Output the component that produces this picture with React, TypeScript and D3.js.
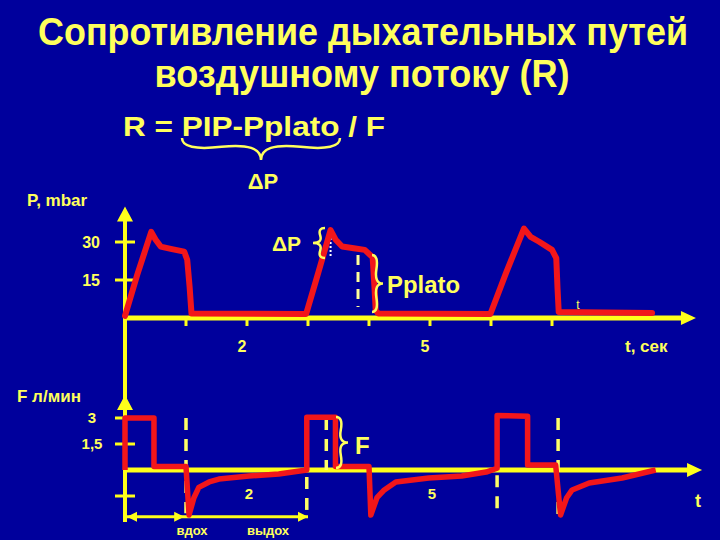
import React, { useEffect, useRef } from 'react';
import * as d3 from 'd3';

// pressure curve, [t in s, P in mbar]
const pressure: [number, number][] = [
    [0, 0.8], [0.2, 17], [0.43, 34], [0.5, 31], [0.585, 28.2], [0.75, 27.3], [0.97, 26.2],
    [1.02, 23], [1.06, 12], [1.09, 1.8], [2.97, 1.6],
    [3.17, 18], [3.37, 34.7], [3.45, 31], [3.56, 28.2], [3.75, 27.5], [3.93, 26.9],
    [4.06, 24], [4.09, 12], [4.11, 3], [4.15, 1.8], [5.99, 1.6],
    [6.25, 18], [6.54, 35.3], [6.65, 32], [6.79, 30.1], [7.0, 26.9],
    [7.07, 23.6], [7.09, 12], [7.11, 2.4], [8.64, 2.0],
];

// flow curve, [t in s, F in l/min]
const flow: [number, number][] = [
    [0, 0], [0, 3], [0.475, 3], [0.475, 0.2], [1.0, 0.2],
    [1.05, -2.6], [1.13, -1.6], [1.21, -1.0], [1.38, -0.69], [1.54, -0.52], [2.03, -0.35], [2.52, -0.23], [2.98, 0],
    [2.98, 3.05], [3.45, 3.05], [3.45, 0.2], [4.0, 0.2],
    [4.03, -2.6], [4.13, -1.6], [4.25, -1.15], [4.44, -0.69], [4.98, -0.46], [5.52, -0.35], [5.92, -0.12], [6.1, 0.1],
    [6.1, 3.15], [6.6, 3.1], [6.6, 0.29], [7.06, 0.29],
    [7.14, -2.6], [7.24, -1.6], [7.33, -1.15], [7.61, -0.75], [8.15, -0.46], [8.7, 0],
];

const pTicks = [15, 30];
const pTickLabels = ['15', '30'];
const fTicks = [3, 1.5, -1.5];
const fTickLabels = ['3', '1,5', ''];
const tTicks = [1, 2, 3, 4, 5, 6, 7];
const tLabels = [2, 5];

// dashed markers: [t, from, to]
const pDashes: [number, number, number][] = [[3.82, 24.9, 4.3]];
const pDotted: [number, number, number][] = [[3.37, 34.7, 23.8]];
const fDashes: [number, number, number][] = [
    [1.0, 3, -2.5], [2.98, -0.4, -2.5], [3.3, 3, 0], [6.1, -0.3, -2.5], [7.1, 3, -2.6],
];

const BG = '#00009c';
const AXIS = '#ffff1a';
const TXT = '#ffff5c';
const RED = '#f2161a';
const FONT = '"Liberation Sans", Arial, sans-serif';

// curly brace from (x1,y1) to (x2,y2), bulging by w
const brace = (x1: number, y1: number, x2: number, y2: number, w: number, q = 0.6) => {
    let dx = x1 - x2, dy = y1 - y2;
    const len = Math.sqrt(dx * dx + dy * dy);
    dx /= len; dy /= len;
    const qx1 = x1 + q * w * dy, qy1 = y1 - q * w * dx;
    const qx2 = x1 - 0.25 * len * dx + (1 - q) * w * dy, qy2 = y1 - 0.25 * len * dy - (1 - q) * w * dx;
    const tx = x1 - 0.5 * len * dx + w * dy, ty = y1 - 0.5 * len * dy - w * dx;
    const qx3 = x2 + q * w * dy, qy3 = y2 - q * w * dx;
    const qx4 = x1 - 0.75 * len * dx + (1 - q) * w * dy, qy4 = y1 - 0.75 * len * dy - (1 - q) * w * dx;
    return `M${x1},${y1}Q${qx1},${qy1} ${qx2},${qy2}T${tx},${ty}M${x2},${y2}Q${qx3},${qy3} ${qx4},${qy4}T${tx},${ty}`;
};

const App = () => {
    const svgRef = useRef<SVGSVGElement>(null);

    useEffect(() => {
        const svg = d3.select(svgRef.current);
        svg.selectAll('*').remove();

        const width = 720;
        const height = 540;

        const x = d3.scaleLinear().domain([0, 1]).range([125, 186]);
        const yP = d3.scaleLinear().domain([0, 30]).range([318, 242]);
        const yF = d3.scaleLinear().domain([0, 3]).range([470, 418]);

        svg.append('rect').attr('width', width).attr('height', height).attr('fill', BG);

        const text = (s: string, tx: number, ty: number, size: number, anchor = 'start', len?: number) => {
            const t = svg.append('text')
                .attr('x', tx).attr('y', ty)
                .attr('fill', TXT)
                .attr('font-family', FONT)
                .attr('font-weight', 'bold')
                .attr('font-size', size)
                .attr('text-anchor', anchor)
                .text(s);
            if (len) t.attr('textLength', len).attr('lengthAdjust', 'spacingAndGlyphs');
            return t;
        };

        // titles (a bit taller than wide, like a narrow face)
        text('Сопротивление дыхательных путей', 0, 0, 36, 'middle', 650)
            .attr('transform', 'translate(363,45) scale(1,1.06)');
        text('воздушному потоку (R)', 0, 0, 36, 'middle', 415)
            .attr('transform', 'translate(362,87) scale(1,1.06)');
        text('R = PIP-Pplato / F', 123, 136, 28, 'start', 262);

        const g = svg.append('g');
        const stroke = (sel: any, c: string, w: number) =>
            sel.attr('fill', 'none').attr('stroke', c).attr('stroke-width', w);

        stroke(g.append('path').attr('d', brace(182, 138, 340, 138, 22)), TXT, 2.5);
        text('ΔP', 263, 189, 22, 'middle');

        // axes
        const ax = g.append('g');
        stroke(ax.append('line')
            .attr('x1', x(0)).attr('x2', x(0))
            .attr('y1', yF(-3)).attr('y2', yP(40)), AXIS, 4);
        stroke(ax.append('line')
            .attr('x1', x(0)).attr('x2', x(9.15))
            .attr('y1', yP(0)).attr('y2', yP(0)), AXIS, 5);
        stroke(ax.append('line')
            .attr('x1', x(0)).attr('x2', x(9.25))
            .attr('y1', yF(0)).attr('y2', yF(0)), AXIS, 5);

        const arrow = (tx: number, ty: number, dir: 'up' | 'right', s = 8, l = 15) => {
            const pts = dir === 'up'
                ? [[tx, ty], [tx - s, ty + l], [tx + s, ty + l]]
                : [[tx, ty], [tx - l, ty - s], [tx - l, ty + s]];
            ax.append('polygon').attr('points', pts.map(p => p.join(',')).join(' ')).attr('fill', AXIS);
        };
        arrow(x(0), yP(44), 'up');
        arrow(x(0), yF(4.33), 'up');
        arrow(x(9.36), yP(0), 'right', 7);
        arrow(x(9.46), yF(0), 'right', 7);

        ax.selectAll('.pt').data(pTicks).join('line')
            .attr('x1', x(0) - 10).attr('x2', x(0) + 10)
            .attr('y1', d => yP(d)).attr('y2', d => yP(d))
            .attr('stroke', AXIS).attr('stroke-width', 3);
        ax.selectAll('.ft').data(fTicks).join('line')
            .attr('x1', x(0) - 10).attr('x2', x(0) + 10)
            .attr('y1', d => yF(d)).attr('y2', d => yF(d))
            .attr('stroke', AXIS).attr('stroke-width', 3);
        ax.selectAll('.tt').data(tTicks).join('line')
            .attr('x1', d => x(d)).attr('x2', d => x(d))
            .attr('y1', yP(0)).attr('y2', yP(0) + 8)
            .attr('stroke', AXIS).attr('stroke-width', 3);

        // вдох / выдох arrows
        const yB = yF(-2.7);
        stroke(ax.append('line').attr('x1', x(0)).attr('x2', x(3.0)).attr('y1', yB).attr('y2', yB), AXIS, 3);
        const small = (tx: number, left: boolean) => {
            const s = left ? 1 : -1;
            ax.append('polygon')
                .attr('points', `${tx},${yB} ${tx + s * 10},${yB - 5} ${tx + s * 10},${yB + 5}`)
                .attr('fill', AXIS);
        };
        small(x(0) + 2, true);
        small(x(0.97), false);
        small(x(3.0), false);

        // dashed markers
        const dl = g.append('g');
        dl.selectAll('.pd').data(pDashes).join('line')
            .attr('x1', d => x(d[0])).attr('x2', d => x(d[0]))
            .attr('y1', d => yP(d[1])).attr('y2', d => yP(d[2]))
            .attr('stroke', '#ffff99').attr('stroke-width', 3).attr('stroke-dasharray', '10,7');
        dl.selectAll('.po').data(pDotted).join('line')
            .attr('x1', d => x(d[0])).attr('x2', d => x(d[0]))
            .attr('y1', d => yP(d[1])).attr('y2', d => yP(d[2]))
            .attr('stroke', '#ffffff').attr('stroke-width', 2).attr('stroke-dasharray', '2,2');
        dl.selectAll('.fd').data(fDashes).join('line')
            .attr('x1', d => x(d[0])).attr('x2', d => x(d[0]))
            .attr('y1', d => yF(d[1])).attr('y2', d => yF(d[2]))
            .attr('stroke', '#ffff66').attr('stroke-width', 3.5).attr('stroke-dasharray', '12,9');

        // curves
        const lineP = d3.line<[number, number]>().x(d => x(d[0])).y(d => yP(d[1]));
        const lineF = d3.line<[number, number]>().x(d => x(d[0])).y(d => yF(d[1]));
        stroke(g.append('path').attr('d', lineP(pressure)), RED, 6)
            .attr('stroke-linejoin', 'round').attr('stroke-linecap', 'round');
        stroke(g.append('path').attr('d', lineF(flow)), RED, 5.5)
            .attr('stroke-linejoin', 'round');

        // braces
        stroke(g.append('path').attr('d', brace(325, 228, 325, 258, 12)), TXT, 2.5);
        stroke(g.append('path').attr('d', brace(372, 312, 372, 255, 11)), TXT, 2.5);
        stroke(g.append('path').attr('d', brace(336, 468, 336, 417, 12)), TXT, 2.5);
        text('ΔP', 272, 251, 21);
        text('Pplato', 387, 293, 24, 'start', 73);
        text('F', 355, 454, 24);

        // axis labels
        text('P, mbar', 27, 206, 17);
        text('F л/мин', 17, 402, 17);
        text('t, сек', 625, 352, 17);
        text('t', 698, 507, 18, 'middle');
        text('t', 578, 309, 12, 'middle').attr('font-weight', 'normal');

        pTicks.forEach((d, i) => text(pTickLabels[i], 100, yP(d) + 6, 16, 'end'));
        fTicks.forEach((d, i) => text(fTickLabels[i], 92, yF(d) + 5, 15, 'middle'));
        tLabels.forEach(d => text(String(d), x(d) - 5, 352, 16, 'middle'));
        tLabels.forEach(d => text(String(d), x(d) + 2, 499, 15, 'middle'));

        text('вдох', 192, 535, 13, 'middle');
        text('выдох', 268, 535, 13, 'middle');
    }, []);

    return (
        <svg ref={svgRef} width={720} height={540}
            style={{ position: 'absolute', left: 0, top: 0, display: 'block' }} />
    );
};

export default App;
